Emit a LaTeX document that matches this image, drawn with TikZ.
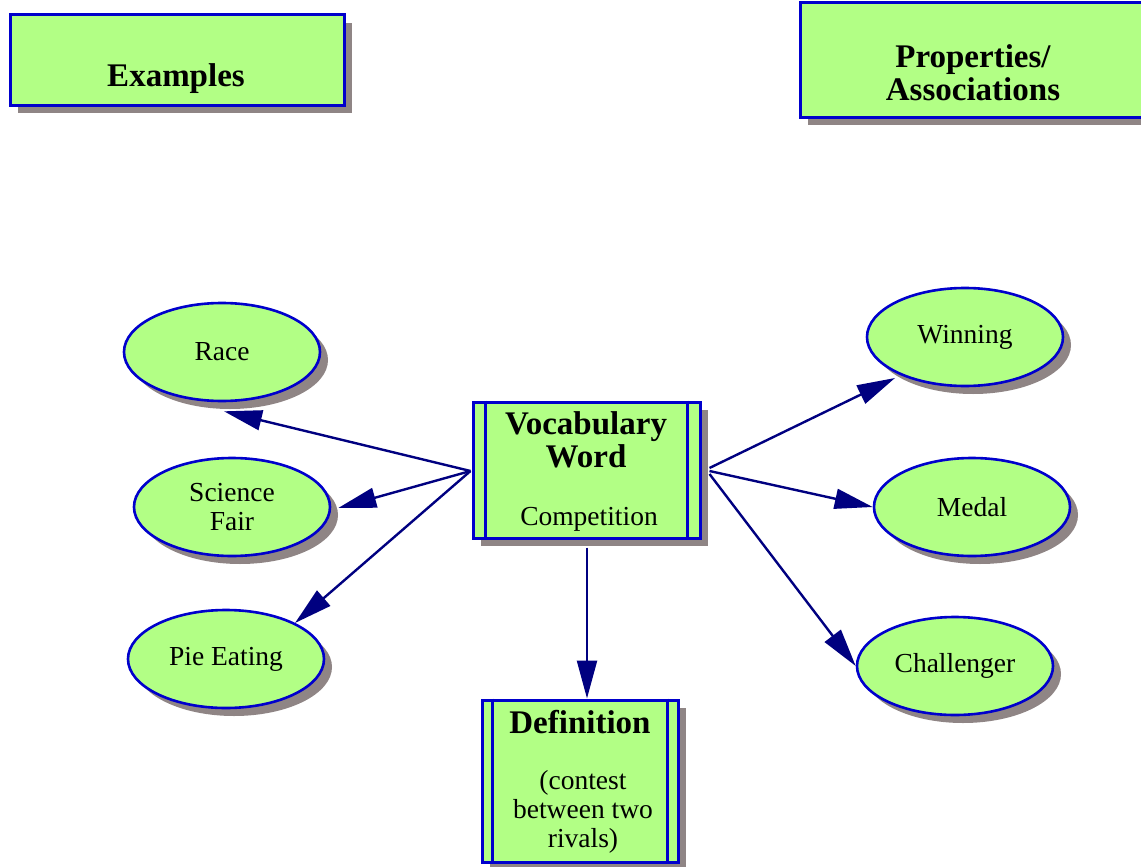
\documentclass[tikz,border=0pt]{standalone}
\usepackage{fontspec}
\setmainfont{Liberation Serif}
\usetikzlibrary{arrows.meta,shapes.geometric,shadows,calc}
\definecolor{boxfill}{HTML}{B2FF85}
\definecolor{boxline}{HTML}{0000CC}
\definecolor{shadowgray}{HTML}{8F8585}
\definecolor{arrowblue}{HTML}{000080}
\tikzset{
  shadowed/.style={drop shadow={shadow xshift=8pt, shadow yshift=-8pt, fill=shadowgray, opacity=1}},
  box/.style={draw=boxline, line width=3pt, fill=boxfill, shadowed, inner sep=0pt},
  oval/.style={ellipse, draw=boxline, line width=2.6pt, fill=boxfill, shadowed, inner sep=0pt,
    minimum width=196pt, minimum height=98pt, font=\fontsize{27.5}{29}\selectfont, align=center},
  boldtxt/.style={font=\fontsize{33}{33}\selectfont\bfseries, align=center, inner sep=0pt},
  regtxt/.style={font=\fontsize{27.5}{29}\selectfont, align=center, inner sep=0pt},
  arr/.style={draw=arrowblue, line width=2.4pt, -{Triangle[length=38pt,width=20pt]}, arrowblue},
  inner/.style={draw=boxline, line width=3pt}
}
\begin{document}
\begin{tikzpicture}[x=1pt,y=-1pt]
\useasboundingbox (0,0) rectangle (1141,867);
% header boxes
\node[box, minimum width=334pt, minimum height=90pt] (ex) at (177,60) {};
\node[boldtxt] (extxt) at (176,79) {Examples};
\node[box, minimum width=350pt, minimum height=114pt] (pa) at (975,60) {};
\node[boldtxt] (patxt) at (973,73) {Properties/\\Associations};
% central node
\node[box, minimum width=227pt, minimum height=136pt] (v) at (586.5,470) {};
\draw[inner] ([xshift=14pt]v.north west) -- ([xshift=14pt]v.south west);
\draw[inner] ([xshift=-14pt]v.north east) -- ([xshift=-14pt]v.south east);
\node[boldtxt] (vtxt) at (586,440) {Vocabulary\\Word};
\node[regtxt] (vcomp) at (589,519) {Competition};
% definition node
\node[box, minimum width=196pt, minimum height=162pt] (d) at (580,781) {};
\draw[inner] ([xshift=12pt]d.north west) -- ([xshift=12pt]d.south west);
\draw[inner] ([xshift=-12pt]d.north east) -- ([xshift=-12pt]d.south east);
\node[boldtxt] (dtxt) at (580,722) {Definition};
\node[regtxt] (dbody) at (583,812) {(contest\\between two\\rivals)};
% ellipses
\node[oval] (race) at (222,352) {\raisebox{2pt}{Race}};
\node[oval] (sci) at (232,507) {Science\\Fair};
\node[oval] (pie) at (226,659) {Pie Eating};
\node[oval] (win) at (965,337) {\raisebox{-3pt}{Winning}};
\node[oval] (medal) at (972,507) {Medal};
\node[oval] (chal) at (955,666) {Challenger};
% arrow points
\coordinate (vl) at ($(v.west)+(-1,1)$);
\coordinate (vr) at ($(v.east)+(8,-2)$);
\coordinate (vr2) at ($(v.east)+(8,1)$);
\coordinate (vr3) at ($(v.east)+(8,4)$);
\coordinate (vb) at ($(v.south)+(0.5,8)$);
\coordinate (racetip) at ($(race.south)+(2,9)$);
\coordinate (scitip) at ($(sci.east)+(7,1)$);
\coordinate (pietip) at (295,623);
\coordinate (wintip) at (895,378);
% arrows
\draw[arr] (vl) -- (racetip);
\draw[arr] (vl) -- (scitip);
\draw[arr] (vl) -- (pietip);
\draw[arr] (vr) -- (wintip);
\draw[arr] (vr2) -- (medal.west);
\draw[arr] (vr3) -- (chal.west);
\draw[arr] (vb) -- (vb |- d.north);
\end{tikzpicture}
\end{document}
